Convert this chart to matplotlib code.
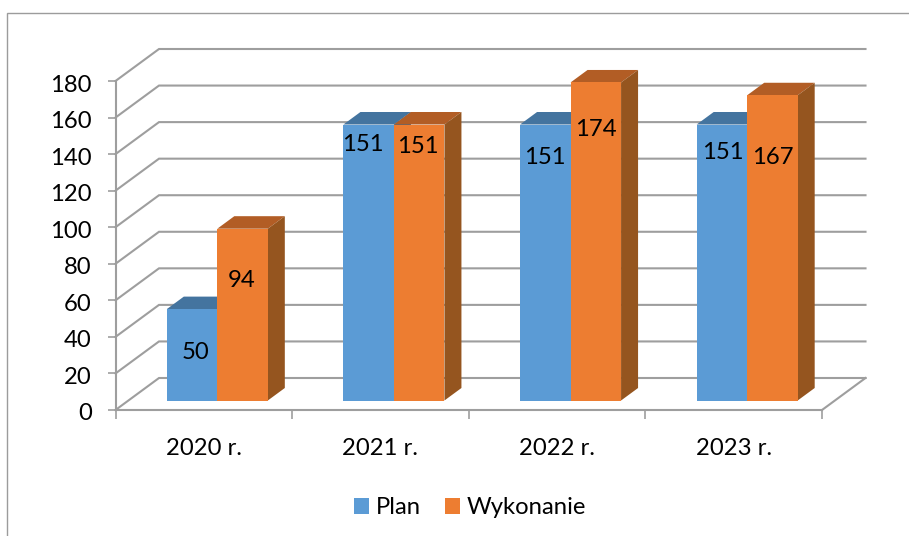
import matplotlib
matplotlib.use('Agg')
import matplotlib.pyplot as plt
from matplotlib.lines import Line2D
from matplotlib.patches import Polygon, Rectangle
from matplotlib.transforms import ScaledTranslation

years = ['2020 r.', '2021 r.', '2022 r.', '2023 r.']
plan = [50, 151, 151, 151]
wykonanie = [94, 151, 174, 167]
y_ticks = list(range(0, 181, 20))

# przesuniecia etykiet wzgledem gory slupka (px)
plan_lab_dx = [3.5, -6, 0, 1]
plan_lab_dy = [43, 20, 33, 28]
wyk_lab_dx = [-1, -1.5, 0, 0]
wyk_lab_dy = [52, 22, 47, 62]

plt.rcParams['font.family'] = ['Lato', 'DejaVu Sans']

W, H = 909, 536
fs = 17.2
fig = plt.figure(figsize=(W / 100, H / 100), dpi=100)

# rama wykresu - widoczna tylko z lewej i u gory
fig.add_artist(Line2D([7 / W, 7 / W, 1], [0, 1 - 12.5 / H, 1 - 12.5 / H], transform=fig.transFigure,
                      color='#9c9c9c', lw=1.0, solid_joinstyle='miter'))

# przednia plaszczyzna osi w pikselach
x0, x1, y0, y1 = 115.5, 822, 410, 81
ax = fig.add_axes([x0 / W, 1 - y0 / H, (x1 - x0) / W, (y0 - y1) / H])
ax.set_xlim(0, 4)
ax.set_ylim(0, 180)
ax.patch.set_alpha(0)

px = 4 / (x1 - x0)
py = 180 / (y0 - y1)

wall_dx, wall_dy = 43.5 * px, 32 * py
depth_dx, depth_dy = 17 * px, 12.5 * py
base = 9.5 * py
shift = 13.5 * px
bar_w = 50.5 * px

grid = '#9e9e9e'
for v in y_ticks:
    ax.plot([0, wall_dx, 4 + wall_dx], [v, v + wall_dy, v + wall_dy], color=grid, lw=1.5,
            clip_on=False, zorder=1, solid_joinstyle='miter')
ax.plot([4, 4 + wall_dx], [0, wall_dy], color=grid, lw=1.5, clip_on=False, zorder=1)


def draw_bar(left, val, front, top, side):
    ax.add_patch(Polygon([(left, base + val), (left + bar_w, base + val),
                          (left + bar_w + depth_dx, base + val + depth_dy),
                          (left + depth_dx, base + val + depth_dy)],
                         fc=top, ec='none', clip_on=False, zorder=3))
    ax.add_patch(Polygon([(left + bar_w, base), (left + bar_w + depth_dx, base + depth_dy),
                          (left + bar_w + depth_dx, base + val + depth_dy),
                          (left + bar_w, base + val)],
                         fc=side, ec='none', clip_on=False, zorder=3))
    ax.bar(left, val, bar_w, bottom=base, align='edge', color=front, zorder=4, clip_on=False)


for i in range(4):
    c = i + 0.5 + shift
    draw_bar(c - bar_w, plan[i], '#5b9bd5', '#44749f', '#3b6a94')
    draw_bar(c, wykonanie[i], '#ed7d31', '#b25d25', '#95551f')
    ax.text(c - bar_w / 2 + plan_lab_dx[i] * px, base + plan[i] - plan_lab_dy[i] * py, str(plan[i]),
            ha='center', va='center', fontsize=fs, color='black', zorder=6)
    ax.text(c + bar_w / 2 + wyk_lab_dx[i] * px, base + wykonanie[i] - wyk_lab_dy[i] * py, str(wykonanie[i]),
            ha='center', va='center', fontsize=fs, color='black', zorder=6)

for s in ['top', 'right']:
    ax.spines[s].set_visible(False)
for s in ['left', 'bottom']:
    ax.spines[s].set_color(grid)
    ax.spines[s].set_linewidth(1.5)
ax.set_yticks(y_ticks)
ax.set_xticks(range(5))
ax.set_xticklabels([])
ax.set_xticks([i + 0.5 for i in range(4)], years, minor=True)
ax.tick_params(axis='x', which='major', length=6.5, width=1.2, color=grid)
ax.tick_params(axis='x', which='minor', length=0, pad=20, labelsize=fs)
ax.tick_params(axis='y', length=6, width=1.2, color=grid, pad=11, labelsize=fs)

# etykiety osi y troche nizej, o 2 px
off = ScaledTranslation(0, -2 / 100, fig.dpi_scale_trans)
for t in ax.get_yticklabels():
    t.set_transform(t.get_transform() + off)

h = [Rectangle((0, 0), 1, 1, fc='#5b9bd5'), Rectangle((0, 0), 1, 1, fc='#ed7d31')]
fig.legend(h, ['Plan', 'Wykonanie'], loc='center', bbox_to_anchor=(470 / W, 1 - 508 / H), ncol=2,
           frameon=False, fontsize=fs, handlelength=0.63, handleheight=0.63, handletextpad=0.3,
           columnspacing=1.0)

fig.savefig('out.png', dpi=100)
